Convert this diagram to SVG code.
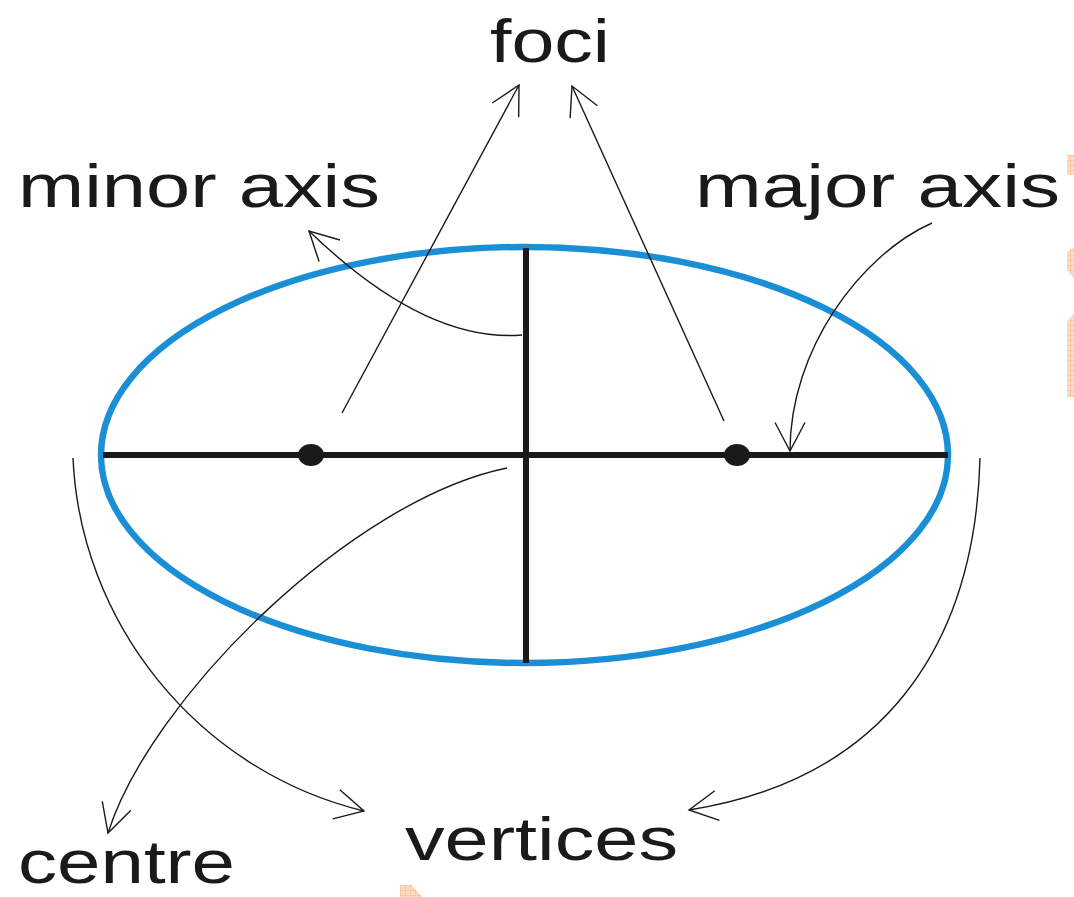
<svg xmlns="http://www.w3.org/2000/svg" width="1074" height="897" viewBox="0 0 1074 897">
<defs>
<marker id="arr" markerUnits="userSpaceOnUse" orient="auto" markerWidth="40" markerHeight="40" refX="0" refY="0" viewBox="-35 -20 40 40" overflow="visible">
<path d="M-28.5,-15 L0,0 L-28.5,15" fill="none" stroke="#1a1a1a" stroke-width="1.4"/>
</marker>
<pattern id="hatch" patternUnits="userSpaceOnUse" width="5" height="5">
<rect width="5" height="5" fill="#fcdcc0"/>
<path d="M0,0 H5 M0,0 V5" stroke="#f6b27c" stroke-width="0.8"/>
</pattern>
</defs>
<style>
.lbl{font-family:"Liberation Sans",Arial,sans-serif;font-size:62px;fill:#1a1a1a}
.con{fill:none;stroke:#1a1a1a;stroke-width:1.4;marker-end:url(#arr)}
.axis{stroke:#1a1a1a;stroke-width:6;fill:none}
.wm{fill:url(#hatch)}
</style>
<rect x="0" y="0" width="1074" height="897" fill="#ffffff"/>
<g id="watermark">
<rect class="wm" x="1067" y="155" width="7" height="20"/>
<path class="wm" d="M1074,247 L1067,252 L1067,270 L1074,278 Z"/>
<path class="wm" d="M1074,313 L1067,322 L1067,397 L1074,397 Z"/>
<path class="wm" d="M400,885 L412,885 L422,897 L400,897 Z"/>
</g>
<g id="ellipse">
<ellipse cx="524.5" cy="455" rx="423.5" ry="208" fill="none" stroke="#1b8fd6" stroke-width="6.5"/>
</g>
<g id="major-axis">
<line class="axis" x1="103" y1="455" x2="948" y2="455"/>
</g>
<g id="minor-axis">
<line class="axis" x1="526" y1="248" x2="526" y2="663"/>
</g>
<g id="focus-left">
<ellipse cx="311" cy="455" rx="13" ry="11" fill="#1a1a1a"/>
</g>
<g id="focus-right">
<ellipse cx="737" cy="455" rx="13" ry="11" fill="#1a1a1a"/>
</g>
<g id="connectors">
<path class="con" d="M342,413 L519,85"/>
<path class="con" d="M724,421 L572,86"/>
<path class="con" d="M522,335 Q425,343 309,231"/>
<path class="con" d="M932,223 C860,255 790,350 790,451"/>
<path class="con" d="M507,468 C350,500 150,700 108,833"/>
<path class="con" d="M73,458 C80,620 195,770 364,811"/>
<path class="con" d="M980,458 C975,650 880,780 689,810"/>
</g>
<g id="label-foci"><text class="lbl" x="490" y="62" textLength="120" lengthAdjust="spacingAndGlyphs">foci</text></g>
<g id="label-minor"><text class="lbl" x="18" y="207" textLength="362" lengthAdjust="spacingAndGlyphs">minor axis</text></g>
<g id="label-major"><text class="lbl" x="695" y="207" textLength="365" lengthAdjust="spacingAndGlyphs">major axis</text></g>
<g id="label-centre"><text class="lbl" x="18" y="883" textLength="217" lengthAdjust="spacingAndGlyphs">centre</text></g>
<g id="label-vertices"><text class="lbl" x="405" y="860" textLength="273" lengthAdjust="spacingAndGlyphs">vertices</text></g>
</svg>
